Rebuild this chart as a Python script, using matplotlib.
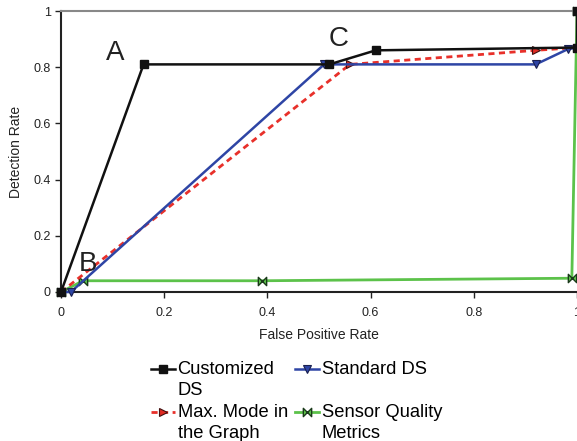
import matplotlib
matplotlib.use("Agg")
import matplotlib.pyplot as plt
from matplotlib.path import Path
from matplotlib.legend_handler import HandlerLine2D

plt.rcParams['font.family'] = ['Liberation Sans', 'DejaVu Sans']

# Data
cust_x = [0.0, 0.16, 0.52, 0.61, 1.0, 1.0]
cust_y = [0.0, 0.81, 0.81, 0.86, 0.87, 1.0]

std_x = [0.0, 0.019, 0.51, 0.92, 0.982, 1.0]
std_y = [0.0, 0.0, 0.81, 0.81, 0.864, 0.87]

max_x = [0.0, 0.56, 0.92, 1.0]
max_y = [0.0, 0.81, 0.86, 0.87]

sqm_x = [0.0, 0.043, 0.39, 0.99, 1.0]
sqm_y = [0.0, 0.04, 0.04, 0.049, 1.0]

labels = ["Customized\nDS", "Standard DS\n ", "Max. Mode in\nthe Graph", "Sensor Quality\nMetrics"]
xticks = [0, 0.2, 0.4, 0.6, 0.8, 1]
xtick_labels = ["0", "0.2", "0.4", "0.6", "0.8", "1"]
yticks = [0, 0.2, 0.4, 0.6, 0.8, 1]
ytick_labels = ["0", "0.2", "0.4", "0.6", "0.8", "1"]

bowtie = Path([(-1, 1), (-1, -1), (1, 1), (1, -1), (-1, 1)],
              [Path.MOVETO, Path.LINETO, Path.LINETO, Path.LINETO, Path.CLOSEPOLY])


class UpHandler(HandlerLine2D):
    shift = 8.2  # points upward

    def create_artists(self, legend, orig_handle, xdescent, ydescent, width,
                       height, fontsize, trans):
        return super().create_artists(legend, orig_handle, xdescent,
                                      ydescent - 2 * self.shift, width, height,
                                      fontsize, trans)


fig = plt.figure(figsize=(5.77, 4.41), dpi=100)
ax = fig.add_axes([61/577, 149/441, 516/577, 281/441])

l_sqm, = ax.plot(sqm_x, sqm_y, color='#5cc24a', lw=2, marker=bowtie, ms=6,
                 mfc='#5cc24a', mec='#1a3a1a', mew=1, clip_on=False, zorder=2)
l_max, = ax.plot(max_x, max_y, color='#e8302a', lw=2, ls=(0, (2.2, 1.6)), marker='>', ms=6,
                 mfc='#e02a22', mec='#401010', mew=0.8, clip_on=False, zorder=3)
l_std, = ax.plot(std_x, std_y, color='#2e45a5', lw=1.8, marker='v', ms=6,
                 mfc='#2e45a5', mec='#1a2050', mew=0.8, clip_on=False, zorder=4)
l_cust, = ax.plot(cust_x, cust_y, color='#111111', lw=1.8, marker='s', ms=6,
                  mfc='#111111', mec='#111111', clip_on=False, zorder=5)

ax.set_xlim(0, 1)
ax.set_ylim(0, 1)
ax.set_xticks(xticks)
ax.set_xticklabels(xtick_labels)
ax.set_yticks(yticks)
ax.set_yticklabels(ytick_labels)
ax.tick_params(labelsize=9, length=4, width=1, color='#222222', labelcolor='#222222')
ax.tick_params(axis='x', pad=7)

ax.spines['top'].set_color('#888888')
ax.spines['top'].set_linewidth(1.5)
ax.spines['right'].set_visible(False)
ax.spines['left'].set_linewidth(1.5)
ax.spines['bottom'].set_linewidth(1.5)
ax.spines['left'].set_color('#222222')
ax.spines['bottom'].set_color('#222222')

ax.set_xlabel("False Positive Rate", fontsize=10, labelpad=6, color='#222222')
ax.set_ylabel("Detection Rate", fontsize=10, labelpad=7, color='#222222')

ax.text(0.105, 0.85, "A", fontsize=20, ha='center', va='center', color='#222222')
ax.text(0.052, 0.10, "B", fontsize=20, ha='center', va='center', color='#222222')
ax.text(0.539, 0.90, "C", fontsize=20, ha='center', va='center', color='#222222')

handler = UpHandler()
leg = fig.legend([l_cust, l_max, l_std, l_sqm],
                 [labels[0], labels[2], labels[1], labels[3]],
                 ncol=2, loc='upper left', bbox_to_anchor=(151/577, 1 - 361/441),
                 frameon=False, fontsize=13.2, handlelength=1.3, handletextpad=0.15,
                 columnspacing=0.4, labelspacing=0.25, borderpad=0, borderaxespad=0,
                 handler_map={l_cust: handler, l_max: handler, l_std: handler, l_sqm: handler})
for t in leg.get_texts():
    t.set_linespacing(1.33)

fig.savefig("out.png", dpi=100)
